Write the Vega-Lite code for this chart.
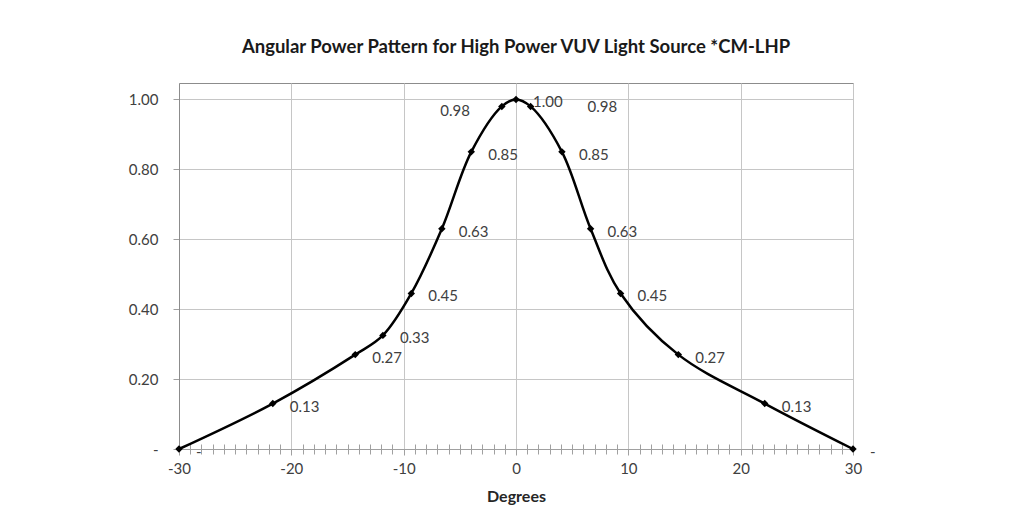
{
  "$schema": "https://vega.github.io/schema/vega-lite/v6.json",
  "width": 674,
  "height": 366,
  "autosize": {"type": "none"},
  "padding": {"left": 179, "top": 83, "right": 156, "bottom": 73},
  "background": "white",
  "title": {
    "text": "Angular Power Pattern for High Power VUV Light Source *CM-LHP",
    "font": "Lato",
    "fontSize": 18.5,
    "fontWeight": "bold",
    "color": "#1a1a1a",
    "anchor": "middle",
    "frame": "group",
    "offset": 27
  },
  "config": {
    "view": {"stroke": "#8c8c8c", "strokeWidth": 1},
    "font": "Lato"
  },
  "data": {
    "values": [
      {"deg": -30, "power": 0, "label": "-"},
      {"deg": -21.65, "power": 0.13, "label": "0.13"},
      {"deg": -14.31, "power": 0.27, "label": "0.27"},
      {"deg": -11.85, "power": 0.325, "label": "0.33"},
      {"deg": -9.32, "power": 0.445, "label": "0.45"},
      {"deg": -6.6, "power": 0.63, "label": "0.63"},
      {"deg": -3.98, "power": 0.85, "label": "0.85"},
      {"deg": -1.26, "power": 0.98, "label": "0.98"},
      {"deg": 0, "power": 1.0, "label": "1.00"},
      {"deg": 1.3, "power": 0.98, "label": "0.98"},
      {"deg": 4.09, "power": 0.85, "label": "0.85"},
      {"deg": 6.64, "power": 0.63, "label": "0.63"},
      {"deg": 9.31, "power": 0.445, "label": "0.45"},
      {"deg": 14.45, "power": 0.27, "label": "0.27"},
      {"deg": 22.14, "power": 0.13, "label": "0.13"},
      {"deg": 30, "power": 0, "label": "-"}
    ]
  },
  "layer": [
    {
      "mark": {"type": "line", "interpolate": "catmull-rom", "color": "black", "strokeWidth": 2.5},
      "encoding": {
        "x": {
          "field": "deg", "type": "quantitative",
          "scale": {"domain": [-30, 30], "nice": false, "zero": false},
          "axis": {
            "orient": "bottom",
            "values": [-30, -20, -10, 0, 10, 20, 30],
            "labelExpr": "'' + datum.value",
            "labelFlush": false,
            "grid": true, "gridColor": "#c6c6c6", "gridWidth": 1,
            "domainColor": "#a0a0a0", "tickColor": "#a0a0a0", "tickSize": 6,
            "labelFontSize": 15, "labelColor": "#404040", "labelPadding": 6,
            "labelFont": "Lato",
            "title": "Degrees", "titleFontSize": 16, "titleFontWeight": "bold",
            "titleColor": "#262626", "titlePadding": 12, "titleFont": "Lato"
          }
        },
        "y": {
          "field": "power", "type": "quantitative",
          "scale": {"domain": [0, 1.047], "nice": false},
          "axis": {
            "values": [0, 0.2, 0.4, 0.6, 0.8, 1.0],
            "labelExpr": "datum.value == 0 ? '-' : format(datum.value, '.2f')",
            "labelFlush": false,
            "grid": true, "gridColor": "#c6c6c6", "gridWidth": 1,
            "domainColor": "#8c8c8c", "tickColor": "#a0a0a0", "tickSize": 6,
            "labelFontSize": 15, "labelColor": "#404040", "labelPadding": 15,
            "labelFont": "Lato",
            "title": null
          }
        }
      }
    },
    {
      "mark": {"type": "point", "shape": "diamond", "filled": true, "color": "black", "size": 55, "opacity": 1},
      "encoding": {
        "x": {
          "field": "deg", "type": "quantitative",
          "axis": {
            "orient": "bottom",
            "values": [-29,-28,-27,-26,-25,-24,-23,-22,-21,-19,-18,-17,-16,-15,-14,-13,-12,-11,-9,-8,-7,-6,-5,-4,-3,-2,-1,1,2,3,4,5,6,7,8,9,11,12,13,14,15,16,17,18,19,21,22,23,24,25,26,27,28,29],
            "offset": -5, "tickSize": 10, "tickColor": "#a0a0a0",
            "labels": false, "domain": false, "grid": false, "title": null
          }
        },
        "y": {"field": "power", "type": "quantitative"}
      }
    },
    {
      "transform": [{"filter": "datum.label != '0.98'"}],
      "mark": {"type": "text", "align": "left", "baseline": "middle", "dx": 17, "dy": 3, "fontSize": 15, "color": "#404040", "font": "Lato"},
      "encoding": {
        "x": {"field": "deg", "type": "quantitative", "axis": null},
        "y": {"field": "power", "type": "quantitative"},
        "text": {"field": "label"}
      }
    },
    {
      "transform": [{"filter": "datum.label == '0.98' && datum.deg < 0"}],
      "mark": {"type": "text", "align": "right", "baseline": "middle", "dx": -32, "dy": 5, "fontSize": 15, "color": "#404040", "font": "Lato"},
      "encoding": {
        "x": {"field": "deg", "type": "quantitative", "axis": null},
        "y": {"field": "power", "type": "quantitative"},
        "text": {"field": "label"}
      }
    },
    {
      "transform": [{"filter": "datum.label == '0.98' && datum.deg > 0"}],
      "mark": {"type": "text", "align": "left", "baseline": "middle", "dx": 57, "dy": 1, "fontSize": 15, "color": "#404040", "font": "Lato"},
      "encoding": {
        "x": {"field": "deg", "type": "quantitative", "axis": null},
        "y": {"field": "power", "type": "quantitative"},
        "text": {"field": "label"}
      }
    }
  ],
  "resolve": {"axis": {"x": "independent"}}
}
